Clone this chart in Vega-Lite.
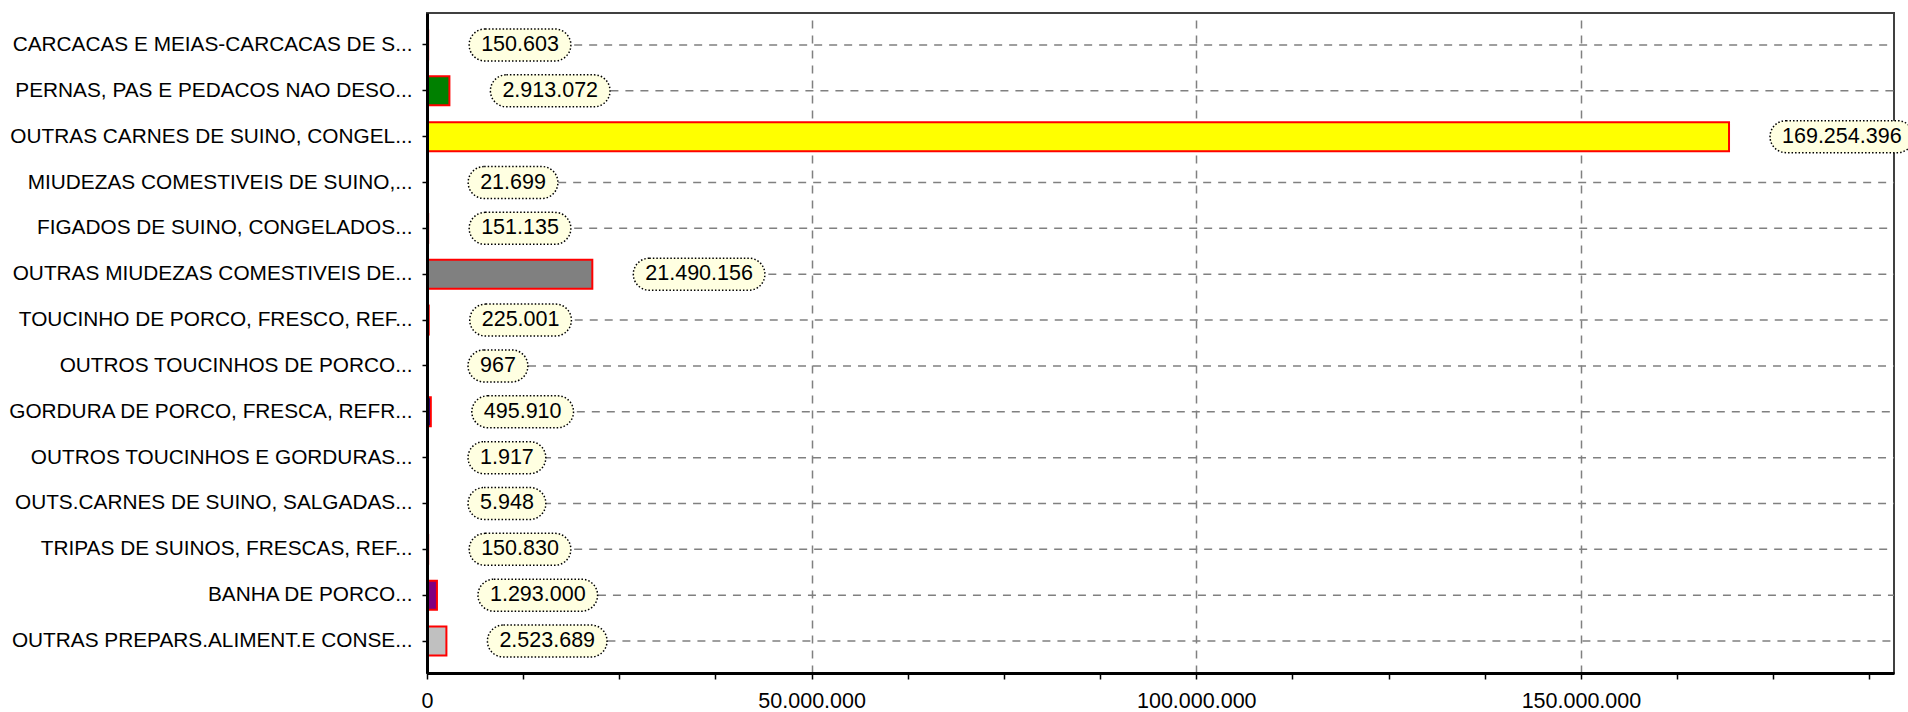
{
  "$schema": "https://vega.github.io/schema/vega-lite/v6.json",
  "width": 1467,
  "height": 660,
  "autosize": {"type": "none"},
  "padding": {"left": 427, "top": 13, "right": 14, "bottom": 39},
  "background": "white",
  "config": {"view": {"stroke": "#404040", "strokeWidth": 2}, "font": "Liberation Sans"},
  "data": {
    "values": [
      {"produto": "CARCACAS E MEIAS-CARCACAS DE S...", "value": 150603},
      {"produto": "PERNAS, PAS E PEDACOS NAO DESO...", "value": 2913072},
      {"produto": "OUTRAS CARNES DE SUINO, CONGEL...", "value": 169254396},
      {"produto": "MIUDEZAS COMESTIVEIS DE SUINO,...", "value": 21699},
      {"produto": "FIGADOS DE SUINO, CONGELADOS...", "value": 151135},
      {"produto": "OUTRAS MIUDEZAS COMESTIVEIS DE...", "value": 21490156},
      {"produto": "TOUCINHO DE PORCO, FRESCO, REF...", "value": 225001},
      {"produto": "OUTROS TOUCINHOS DE PORCO...", "value": 967},
      {"produto": "GORDURA DE PORCO, FRESCA, REFR...", "value": 495910},
      {"produto": "OUTROS TOUCINHOS E GORDURAS...", "value": 1917},
      {"produto": "OUTS.CARNES DE SUINO, SALGADAS...", "value": 5948},
      {"produto": "TRIPAS DE SUINOS, FRESCAS, REF...", "value": 150830},
      {"produto": "BANHA DE PORCO...", "value": 1293000},
      {"produto": "OUTRAS PREPARS.ALIMENT.E CONSE...", "value": 2523689}
    ]
  },
  "transform": [
    {"calculate": "replace(format(datum.value, ','), regexp(',', 'g'), '.')", "as": "label"}
  ],
  "encoding": {
    "y": {
      "field": "produto",
      "type": "nominal",
      "sort": null,
      "scale": {"paddingInner": 0.3675, "paddingOuter": 0.381},
      "axis": {
        "title": null,
        "labelFontSize": 20.8,
        "labelFont": "Liberation Sans",
        "labelColor": "black",
        "labelPadding": 10,
        "labelLimit": 600,
        "tickSize": 5,
        "tickColor": "black",
        "tickWidth": 1.5,
        "domainColor": "black",
        "domainWidth": 3,
        "grid": false,
        "zindex": 1
      }
    },
    "x": {
      "field": "value",
      "type": "quantitative",
      "scale": {"domain": [0, 190700000], "nice": false},
      "axis": {
        "title": null,
        "values": [0, 12500000, 25000000, 37500000, 50000000, 62500000, 75000000, 87500000, 100000000, 112500000, 125000000, 137500000, 150000000, 162500000, 175000000, 187500000],
        "format": ",d",
        "labelExpr": "datum.value % 50000000 === 0 ? replace(datum.label, regexp(',', 'g'), '.') : ''",
        "labelFontSize": 21.5,
        "labelFont": "Liberation Sans",
        "labelColor": "black",
        "labelPadding": 11,
        "labelFlush": false,
        "labelOverlap": false,
        "tickSize": 6,
        "tickColor": "black",
        "tickWidth": 1.5,
        "domainColor": "black",
        "domainWidth": 3,
        "grid": true,
        "gridDash": [8, 7],
        "gridColor": "#808080",
        "gridWidth": 1.5,
        "gridOpacity": {"condition": {"test": "datum.value % 50000000 === 0 && datum.value > 0", "value": 1}, "value": 0}
      }
    }
  },
  "layer": [
    {
      "mark": {"type": "rule", "strokeDash": [8, 7], "color": "#808080", "strokeWidth": 1.5, "xOffset": 41},
      "encoding": {"x2": {"datum": 190700000}}
    },
    {
      "mark": {"type": "bar", "stroke": "#FF0000", "strokeWidth": 2},
      "encoding": {
        "color": {
          "field": "produto",
          "type": "nominal",
          "legend": null,
          "scale": {
            "domain": ["CARCACAS E MEIAS-CARCACAS DE S...", "PERNAS, PAS E PEDACOS NAO DESO...", "OUTRAS CARNES DE SUINO, CONGEL...", "MIUDEZAS COMESTIVEIS DE SUINO,...", "FIGADOS DE SUINO, CONGELADOS...", "OUTRAS MIUDEZAS COMESTIVEIS DE...", "TOUCINHO DE PORCO, FRESCO, REF...", "OUTROS TOUCINHOS DE PORCO...", "GORDURA DE PORCO, FRESCA, REFR...", "OUTROS TOUCINHOS E GORDURAS...", "OUTS.CARNES DE SUINO, SALGADAS...", "TRIPAS DE SUINOS, FRESCAS, REF...", "BANHA DE PORCO...", "OUTRAS PREPARS.ALIMENT.E CONSE..."],
            "range": ["#FF0000", "#008000", "#FFFF00", "#0000FF", "#FFFFFF", "#808080", "#FF00FF", "#008080", "#000080", "#800000", "#00FF00", "#808000", "#800080", "#C0C0C0"]
          }
        }
      }
    },
    {
      "mark": {
        "type": "bar",
        "size": 32,
        "cornerRadius": 16,
        "fill": "#FFFFE1",
        "stroke": "black",
        "strokeDash": [1.5, 2],
        "strokeWidth": 1.5,
        "xOffset": 41,
        "x2Offset": {"expr": "41 + 24 + 21.5*(0.556*length(toString(datum.value)) + 0.278*(length(datum.label) - length(toString(datum.value))))"}
      },
      "encoding": {"x2": {"field": "value"}}
    },
    {
      "mark": {"type": "text", "align": "left", "baseline": "middle", "dx": 53, "fontSize": 21.5, "font": "Liberation Sans", "color": "black"},
      "encoding": {"text": {"field": "label"}}
    }
  ]
}
